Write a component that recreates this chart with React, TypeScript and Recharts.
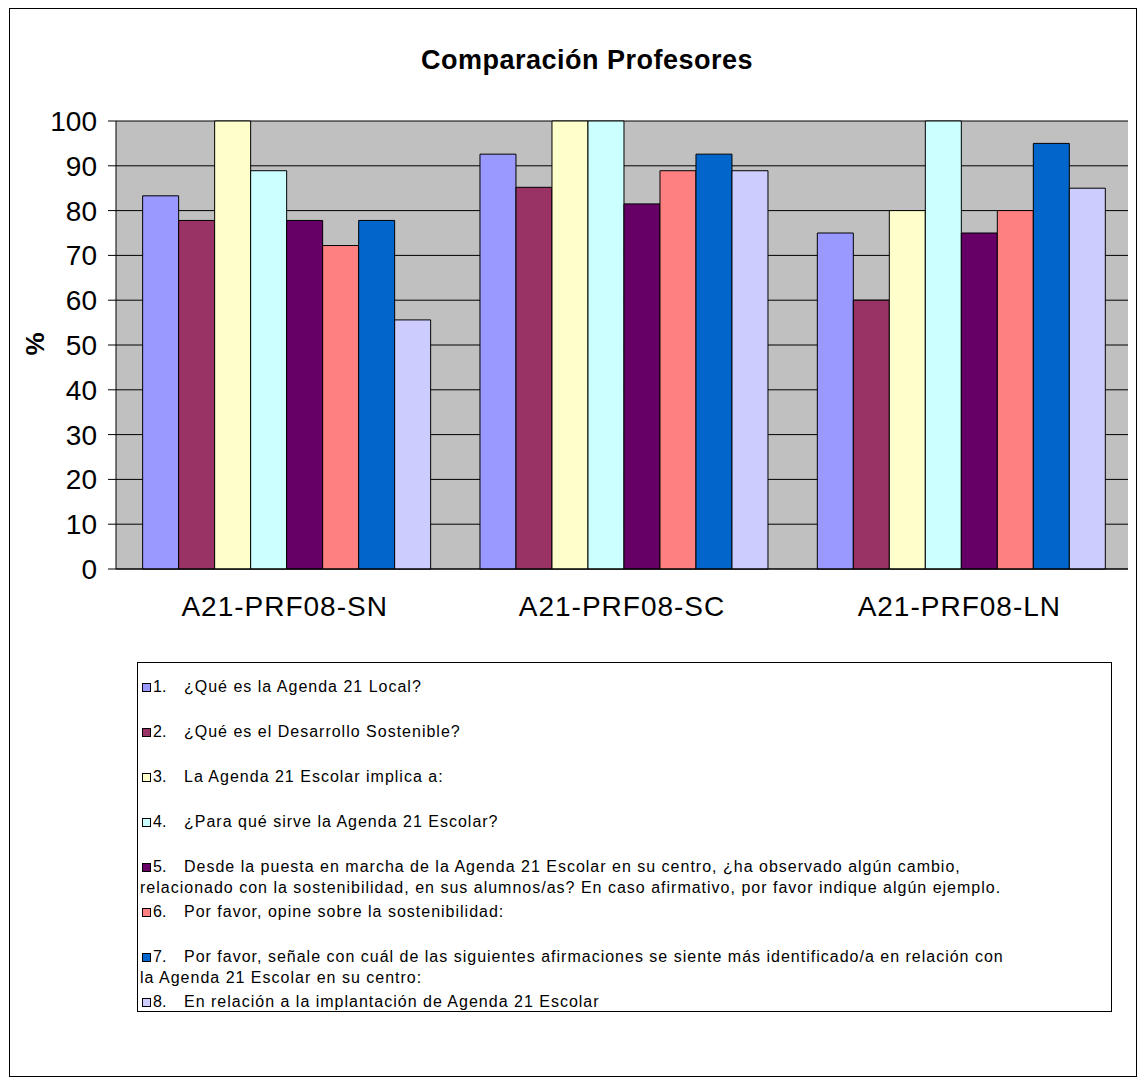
import { BarChart, Bar, XAxis, YAxis, CartesianGrid, Legend } from 'recharts'

const categories = ['A21-PRF08-SN', 'A21-PRF08-SC', 'A21-PRF08-LN']

const questions = [
  '¿Qué es la Agenda 21 Local?',
  '¿Qué es el Desarrollo Sostenible?',
  'La Agenda 21 Escolar implica a:',
  '¿Para qué sirve la Agenda 21 Escolar?',
  'Desde la puesta en marcha de la Agenda 21 Escolar en su centro, ¿ha observado algún cambio,\nrelacionado con la sostenibilidad, en sus alumnos/as? En caso afirmativo, por favor indique algún ejemplo.',
  'Por favor, opine sobre la sostenibilidad:',
  'Por favor, señale con cuál de las siguientes afirmaciones se siente más identificado/a en relación con\nla Agenda 21 Escolar en su centro:',
  'En relación a la implantación de Agenda 21 Escolar',
]

const colors = ['#9999FF', '#993366', '#FFFFCC', '#CCFFFF', '#660066', '#FF8080', '#0066CC', '#CCCCFF']

// one list per question, values for SN, SC, LN
const q1 = [83.3, 92.6, 75]
const q2 = [77.8, 85.2, 60]
const q3 = [100, 100, 80]
const q4 = [88.9, 100, 100]
const q5 = [77.8, 81.5, 75]
const q6 = [72.2, 88.9, 80]
const q7 = [77.8, 92.6, 95]
const q8 = [55.6, 88.9, 85]

const series = [q1, q2, q3, q4, q5, q6, q7, q8]
const yTicks = [0, 10, 20, 30, 40, 50, 60, 70, 80, 90, 100]
const boundaries = [0, 1, 2, 3]

const data = categories.map((name, ci) => {
  const row: any = { name }
  series.forEach((s, si) => {
    row['q' + (si + 1)] = s[ci]
  })
  return row
})

const font = '"Liberation Sans", Arial, sans-serif'

const renderLegend = () => (
  <div style={{ fontFamily: font, fontSize: 16, color: '#000', paddingTop: 13, textAlign: 'left' }}>
    {questions.map((q, i) => {
      const [first, ...rest] = q.split('\n')
      return (
        <div key={i} style={{ height: 45, lineHeight: '21px', whiteSpace: 'pre', paddingLeft: 2 }}>
          <div>
            <span
              style={{
                display: 'inline-block',
                width: 7,
                height: 7,
                border: '1px solid #000',
                background: colors[i],
                marginLeft: 2,
                verticalAlign: 'middle',
              }}
            />
            <span style={{ display: 'inline-block', width: 33, paddingLeft: 2, boxSizing: 'border-box' }}>{i + 1}.</span>
            <span style={{ letterSpacing: 1 }}>{first}</span>
          </div>
          {rest.map((line, li) => (
            <div key={li} style={{ letterSpacing: 1 }}>{line}</div>
          ))}
        </div>
      )
    })}
  </div>
)

export default function App() {
  return (
    <div style={{ position: 'relative', width: 1129, height: 1069, fontFamily: font }}>
      <BarChart
        width={1129}
        height={1069}
        data={data}
        margin={{ top: 113, right: 9, bottom: 458, left: 8 }}
        barCategoryGap="7.9%"
        barGap={0}
      >
        <CartesianGrid vertical={false} stroke="#000" fill="#C0C0C0" />
        <XAxis
          xAxisId="b"
          type="number"
          domain={[0, 3]}
          ticks={boundaries}
          tick={false}
          axisLine={false}
          tickSize={8}
          height={0}
          stroke="#000"
        />
        <XAxis
          dataKey="name"
          height={50}
          tickLine={false}
          tickSize={0}
          tickMargin={27}
          axisLine={{ stroke: '#000' }}
          tick={{ fontSize: 28, fill: '#000', fontFamily: font, letterSpacing: 1 }}
        />
        <YAxis
          width={100}
          domain={[0, 100]}
          ticks={yTicks}
          interval={0}
          tickSize={8}
          tickMargin={11}
          axisLine={{ stroke: '#000' }}
          tickLine={{ stroke: '#000' }}
          tick={{ fontSize: 28, fill: '#000', fontFamily: font }}
        />
        <YAxis
          yAxisId="r"
          orientation="right"
          width={0}
          tick={false}
          tickLine={false}
          axisLine={{ stroke: '#808080' }}
        />
        <Legend
          layout="horizontal"
          verticalAlign="middle"
          align="center"
          width={975}
          height={350}
          content={renderLegend}
          wrapperStyle={{
            left: 129,
            top: 654,
            width: 975,
            height: 350,
            border: '1px solid #000',
            boxSizing: 'border-box',
            background: '#fff',
          }}
        />
        {series.map((_, i) => (
          <Bar
            key={i}
            dataKey={'q' + (i + 1)}
            name={questions[i]}
            fill={colors[i]}
            stroke="#000"
            strokeWidth={1}
            isAnimationActive={false}
          />
        ))}
      </BarChart>
      <div
        style={{
          position: 'absolute',
          left: 1,
          top: 0,
          width: 1128,
          height: 1069,
          border: '1px solid #000',
          boxSizing: 'border-box',
          pointerEvents: 'none',
        }}
      />
      <div
        style={{
          position: 'absolute',
          left: 579,
          top: 52,
          transform: 'translate(-50%, -50%)',
          fontSize: 27,
          fontWeight: 'bold',
          letterSpacing: 0.5,
          whiteSpace: 'nowrap',
        }}
      >
        Comparación Profesores
      </div>
      <div
        style={{
          position: 'absolute',
          left: 27,
          top: 336,
          transform: 'translate(-50%, -50%) rotate(-90deg)',
          fontSize: 26,
          fontWeight: 'bold',
        }}
      >
        %
      </div>
    </div>
  )
}
